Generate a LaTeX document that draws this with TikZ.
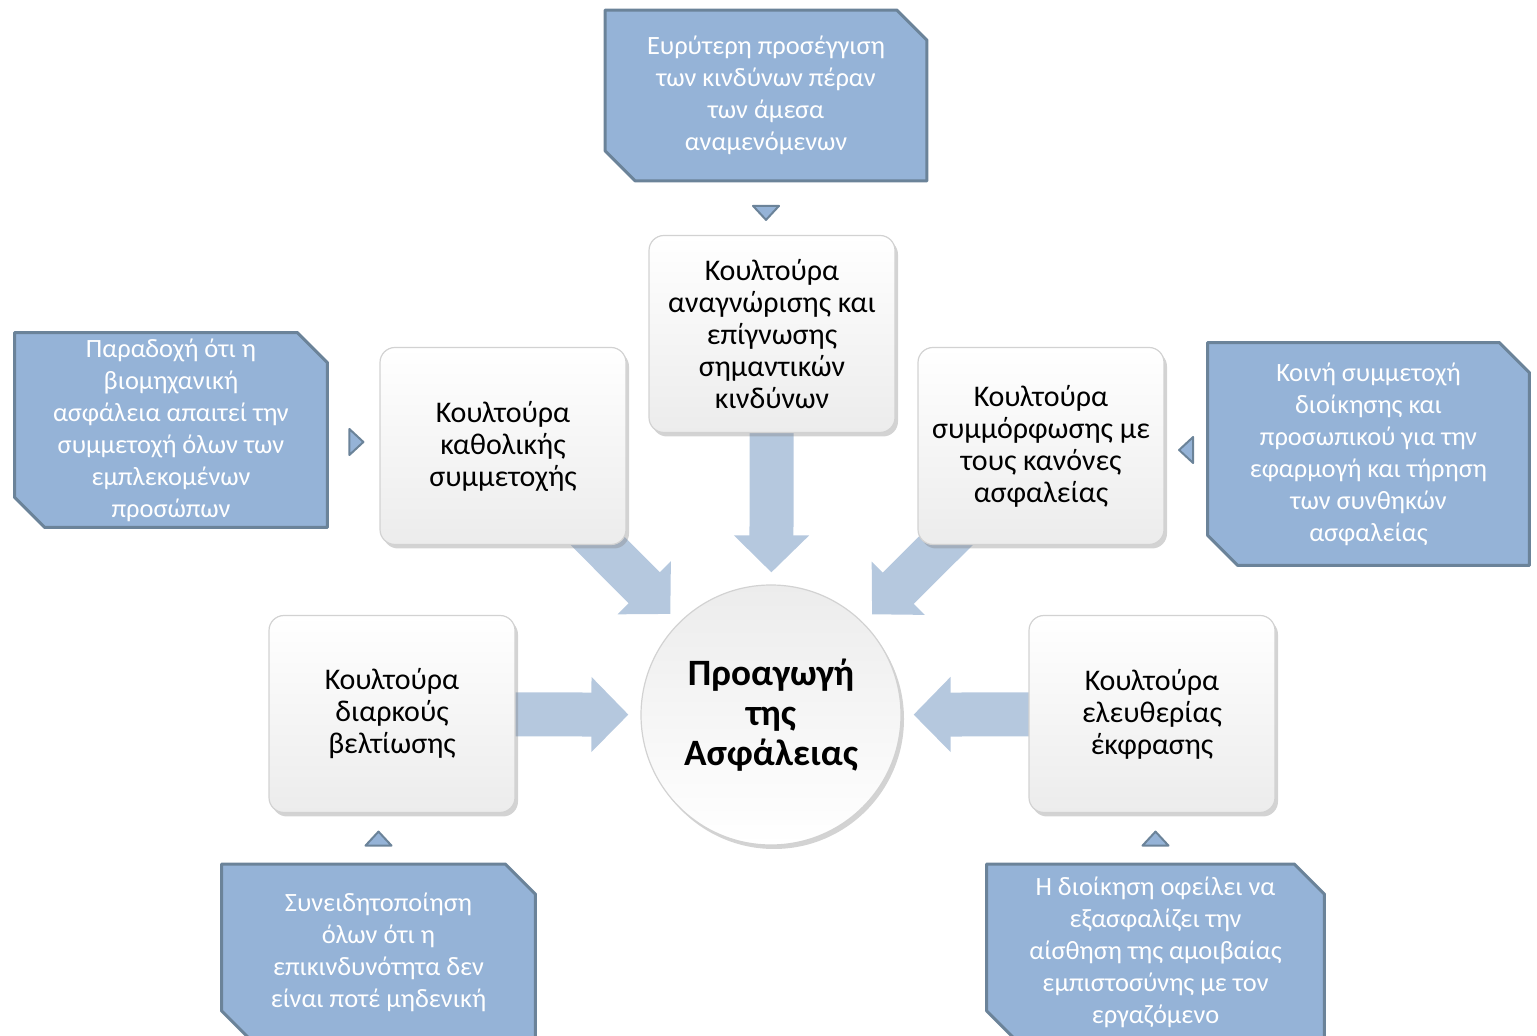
\documentclass[tikz,border=0pt]{standalone}
\usepackage{fontspec}
\setmainfont{Carlito}
\usetikzlibrary{arrows.meta,positioning,shadows,backgrounds,calc}
\definecolor{noteblue}{HTML}{95B3D7}
\definecolor{noteedge}{HTML}{6B8399}
\definecolor{pushblue}{HTML}{B5C8DE}
\definecolor{boxedge}{HTML}{D2D2D2}
\definecolor{boxgrey}{HTML}{ECECEC}

\begin{document}
\begin{tikzpicture}[
  x=0.5pt, y=-0.5pt,
  font=\fontsize{13.2}{16}\selectfont,
  culture/.style={draw=boxedge, line width=0.6pt, rounded corners=7.5pt,
    top color=white, bottom color=boxgrey, align=center,
    minimum width=123pt, minimum height=98.5pt, inner sep=2pt,
    font=\fontsize{15}{16}\selectfont,
    drop shadow={shadow xshift=1.5pt, shadow yshift=-2pt, opacity=0.35}},
  hub/.style={circle, draw=boxedge, line width=0.6pt,
    top color=boxgrey, bottom color=white, align=center,
    minimum size=130pt, inner sep=0pt,
    font=\fontsize{18.6}{20}\selectfont\bfseries,
    drop shadow={shadow xshift=1.5pt, shadow yshift=-2pt, opacity=0.35}},
  note/.style={rectangle, text=white, align=center, inner sep=0pt},
  noteframe/.style={draw=noteedge, line width=1.5pt, fill=noteblue,
    line join=round},
  push/.style={line width=22pt, draw=pushblue,
    -{Triangle[length=18.5pt, width=36.5pt]}, shorten >=6pt},
  marker/.pic={\draw[noteedge, line width=1pt, fill=noteblue, line join=round]
    (-13,-7) -- (13,-7) -- (0,7) -- cycle;}
]
\path[use as bounding box, clip] (0,0) rectangle (1537,1036);

% centre and the five cultures
\node[hub] (safety) at (771,715) {Προαγωγή\\της\\Ασφάλειας};
\node[culture] (recognition) at (772,334)
  {Κουλτούρα\\αναγνώρισης και\\επίγνωσης\\σημαντικών\\κινδύνων};
\node[culture] (participation) at (503,446) {Κουλτούρα\\καθολικής\\συμμετοχής};
\node[culture] (compliance) at (1041,446)
  {Κουλτούρα\\συμμόρφωσης με\\τους κανόνες\\ασφαλείας};
\node[culture] (improvement) at (392,714) {Κουλτούρα\\διαρκούς\\βελτίωσης};
\node[culture] (expression) at (1152,714) {Κουλτούρα\\ελευθερίας\\έκφρασης};

% explanatory notes
\node[note, minimum width=160.5pt, minimum height=85pt,
  above=27pt of recognition, xshift=-3pt] (wider)
  {Ευρύτερη προσέγγιση\\των κινδύνων πέραν\\των άμεσα\\αναμενόμενων};
\node[note, minimum width=156pt, minimum height=97pt,
  left=26pt of participation, yshift=8pt] (shared)
  {Παραδοχή ότι η\\βιομηχανική\\ασφάλεια απαιτεί την\\συμμετοχή όλων των\\εμπλεκομένων\\προσώπων};
\node[note, minimum width=160.5pt, minimum height=111pt,
  right=21.5pt of compliance, yshift=-4pt] (joint)
  {Κοινή συμμετοχή\\διοίκησης και\\προσωπικού για την\\εφαρμογή και τήρηση\\των συνθηκών\\ασφαλείας};
\node[note, minimum width=156.5pt, minimum height=88pt,
  below=25.5pt of improvement, xshift=-6.75pt] (aware)
  {Συνειδητοποίηση\\όλων ότι η\\επικινδυνότητα δεν\\είναι ποτέ μηδενική};
\node[note, minimum width=168.5pt, minimum height=88pt,
  below=25.5pt of expression, xshift=1.75pt] (trust)
  {Η διοίκηση οφείλει να\\εξασφαλίζει την\\αίσθηση της αμοιβαίας\\εμπιστοσύνης με τον\\εργαζόμενο};

% small pointers
\pic at ($(recognition.north -| wider.south)!0.5!(wider.south)+(0,5)$) {marker};
\pic[rotate=90] at ($(shared.east)!0.5!(participation.west)+(3,4)$) {marker};
\pic[rotate=-90] at ($(compliance.east)!0.5!(joint.west)$) {marker};
\pic[rotate=180] at ($(improvement.south -| aware.north)!0.5!(aware.north)$) {marker};
\pic[rotate=180] at ($(expression.south -| trust.north)!0.5!(trust.north)$) {marker};

% note frames and block arrows behind everything
\begin{scope}[on background layer]
\foreach \n in {wider,shared,joint,aware,trust}
  \draw[noteframe] (\n.north west) -- ([xshift=-15pt]\n.north east)
    -- ([yshift=-15pt]\n.north east) -- (\n.south east)
    -- ([xshift=15pt]\n.south west) -- ([yshift=15pt]\n.south west) -- cycle;
\draw[push] (recognition.center) -- (safety);
\draw[push] (participation.center) -- (safety);
\draw[push] (compliance.center) -- (safety);
\draw[push] (improvement.center) -- (safety);
\draw[push] (expression.center) -- (safety);
\end{scope}

\end{tikzpicture}
\end{document}
